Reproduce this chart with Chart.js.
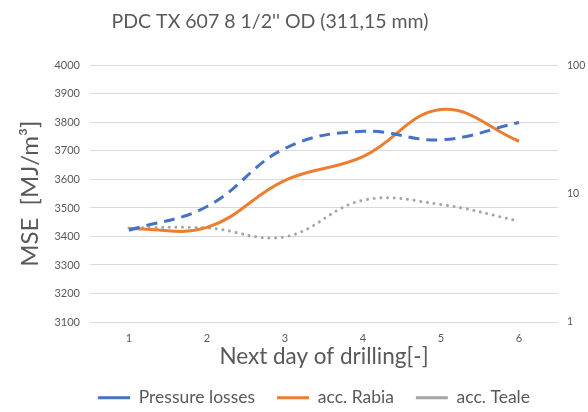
<!DOCTYPE html>
<html lang="en">
  <head>
    <meta charset="UTF-8" />
    <title>PDC TX 607 MSE</title>
    <style>
      body { margin: 0; background: #fff; }
      .wrapper { width: 588px; height: 412px; }
    </style>
  </head>
  <body>
    <div class="wrapper">
      <canvas id="chartMse" width="588" height="412"></canvas>
    </div>
    <script src="https://cdn.jsdelivr.net/npm/chart.js"></script>
    <script>
      // values
      const days = ["1", "2", "3", "4", "5", "6"];
      const pressureLosses = [3422, 3505, 3709, 3769, 3739, 3800];
      const accRabia = [3428, 3432, 3597, 3680, 3845, 3734];
      const accTeale = [3430, 3430, 3399, 3527, 3512, 3454];
      const leftTicks = [3100, 3200, 3300, 3400, 3500, 3600, 3700, 3800, 3900, 4000];
      const rightTicks = [1, 10, 100];

      const textColor = "#595959";
      const gridColor = "#d9d9d9";

      // nudge title / legend like the Excel original, fix legend height
      const placeBoxes = {
        id: "placeBoxes",
        beforeLayout(chart) {
          const legend = chart.legend;
          if (legend && !legend._fixed) {
            const fit = legend.fit.bind(legend);
            legend.fit = function () {
              fit();
              this.height = 45;
            };
            legend._fixed = true;
          }
        },
        afterLayout(chart) {
          chart.titleBlock.right = chart.titleBlock.left + 540;
          chart.legend.left += 40;
        },
      };

      new Chart(document.getElementById("chartMse"), {
        type: "line",
        data: {
          labels: days,
          datasets: [
            {
              label: "Pressure losses",
              data: pressureLosses,
              borderColor: "#4472c4",
              backgroundColor: "#4472c4",
              borderWidth: 3,
              borderDash: [11, 7],
              pointRadius: 0,
              tension: 0.4,
            },
            {
              label: "acc. Rabia",
              data: accRabia,
              borderColor: "#ed7d31",
              backgroundColor: "#ed7d31",
              borderWidth: 3,
              pointRadius: 0,
              tension: 0.4,
            },
            {
              label: "acc. Teale",
              data: accTeale,
              borderColor: "#a5a5a5",
              backgroundColor: "#a5a5a5",
              borderWidth: 3,
              borderDash: [0.01, 6.7],
              borderCapStyle: "round",
              pointRadius: 0,
              tension: 0.4,
            },
          ],
        },
        plugins: [placeBoxes],
        options: {
          responsive: false,
          animation: false,
          layout: { padding: 0 },
          scales: {
            x: {
              offset: true,
              grid: { display: false, drawTicks: false },
              border: { display: false },
              ticks: {
                color: textColor,
                font: { family: "Lato", size: 11 },
                padding: 10,
              },
              title: {
                display: true,
                text: "Next day of drilling[-]",
                color: textColor,
                font: { family: "Lato", size: 22.5 },
                padding: { top: 0, bottom: -3 },
              },
              afterFit: (scale) => {
                scale.height = 45;
              },
            },
            y: {
              position: "left",
              min: 3100,
              max: 4000,
              afterBuildTicks: (scale) => {
                scale.ticks = leftTicks.map((v) => ({ value: v }));
              },
              grid: { color: gridColor, drawTicks: false },
              border: { display: false },
              ticks: {
                color: textColor,
                font: { family: "Lato", size: 11 },
                padding: 10,
                callback: (v) => String(v),
              },
              title: {
                display: true,
                text: "MSE  [MJ/m³]",
                color: textColor,
                font: { family: "Lato", size: 24 },
                padding: { top: 16, bottom: 0 },
              },
              afterFit: (scale) => {
                scale.width = 90;
              },
            },
            y2: {
              type: "logarithmic",
              position: "right",
              min: 1,
              max: 100,
              afterBuildTicks: (scale) => {
                scale.ticks = rightTicks.map((v) => ({ value: v }));
              },
              grid: { display: false, drawTicks: false },
              border: { display: false },
              ticks: {
                color: textColor,
                font: { family: "Lato", size: 10.5 },
                padding: 9,
                callback: (v) => String(v),
              },
              afterFit: (scale) => {
                scale.width = 30;
              },
            },
          },
          plugins: {
            title: {
              display: true,
              text: "PDC TX 607 8 1/2'' OD (311,15 mm)",
              color: textColor,
              font: { family: "Lato", size: 19.5, weight: "normal" },
              padding: { top: 10, bottom: 32 },
            },
            legend: {
              position: "bottom",
              labels: {
                color: textColor,
                font: { family: "Lato", size: 17.5 },
                usePointStyle: true,
                pointStyle: "line",
                pointStyleWidth: 32,
                boxHeight: 3,
                padding: 22,
              },
            },
            tooltip: { enabled: false },
          },
        },
      });
    </script>
  </body>
</html>
